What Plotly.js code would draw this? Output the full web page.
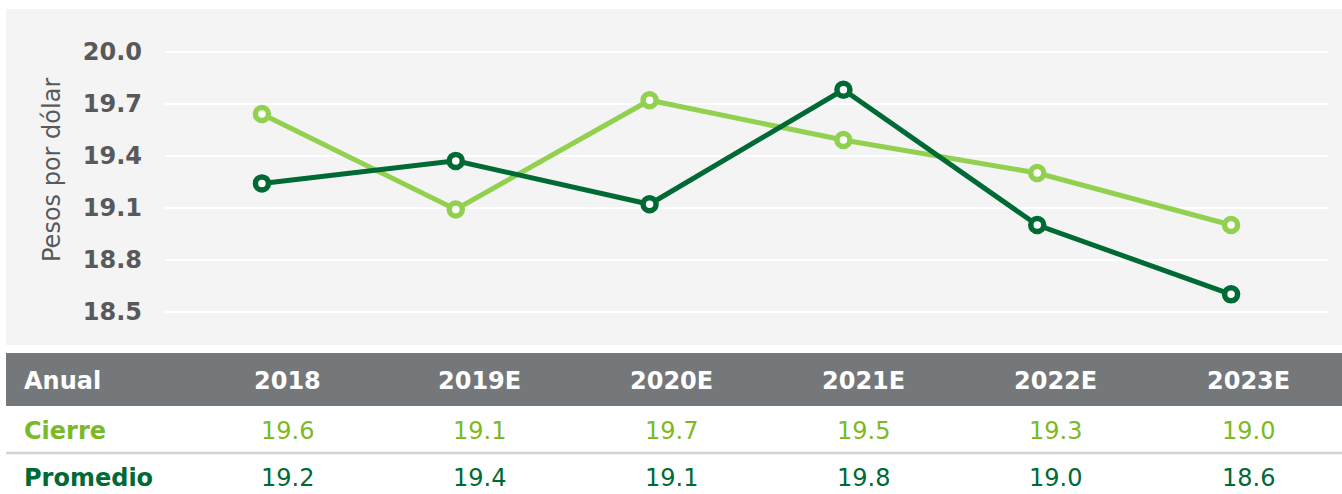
<!DOCTYPE html>
<html>
<head>
<meta charset="utf-8">
<script src="https://cdn.plot.ly/plotly-3.0.1.min.js"></script>
<style>html,body{margin:0;padding:0;background:#fff;}#chart{width:1342px;height:494px;}</style>
</head>
<body>
<div id="chart"></div>
<script>
// ---- data ----
const years = ["2018", "2019E", "2020E", "2021E", "2022E", "2023E"];
const cierre = [19.64, 19.09, 19.72, 19.49, 19.30, 19.00];
const promedio = [19.24, 19.37, 19.12, 19.78, 19.00, 18.60];
const seriesNames = ["Cierre", "Promedio"];
const headerLabel = "Anual";
const yTitle = "Pesos por dólar";
const yTicks = [18.5, 18.8, 19.1, 19.4, 19.7, 20.0];

// ---- styles ----
const W = 1342, H = 494;
const px = x => x / W;
const py = y => 1 - y / H;
const LIGHT = "#92d050", LIGHT_TXT = "#7cb927";
const DARK = "#006a35", DARK_TXT = "#006a35";
const HEAD = "#75787b", TICK = "#58595b";
const FONT = "DejaVu Sans, Verdana, sans-serif";
const FS = 24;

function lineTrace(name, vals, color) {
  return {
    type: "scatter", mode: "lines+markers", name: name,
    x: years, y: vals,
    line: {color: color, width: 5},
    marker: {size: 13, color: "#ffffff", line: {color: color, width: 5.5}},
    hoverinfo: "x+y"
  };
}

const data = [
  lineTrace(seriesNames[0], cierre, LIGHT),
  lineTrace(seriesNames[1], promedio, DARK)
];

const shapes = [
  {type: "rect", xref: "paper", yref: "paper", x0: px(6), x1: px(1342), y0: py(345), y1: py(9),
   fillcolor: "#f4f4f4", line: {width: 0}, layer: "below"},
  {type: "rect", xref: "paper", yref: "paper", x0: px(6), x1: px(1342), y0: py(406), y1: py(353),
   fillcolor: HEAD, line: {width: 0}, layer: "below"},
  {type: "line", xref: "paper", yref: "paper", x0: px(6), x1: px(1342), y0: py(453), y1: py(453),
   line: {color: "#d4d4d4", width: 2.5}, layer: "below"}
];

const colX = i => 287.5 + 192.1 * i;
const annotations = [];
annotations.push({xref: "paper", yref: "paper", x: px(52), y: py(170), text: yTitle, textangle: -90,
  showarrow: false, xanchor: "center", yanchor: "middle", font: {family: FONT, size: FS, color: TICK}});
const rows = [
  {label: headerLabel, vals: years, y: 381, color: "#ffffff", bold: true, labelColor: "#ffffff"},
  {label: seriesNames[0], vals: cierre.map(v => v.toFixed(1)), y: 431, color: LIGHT_TXT, bold: false, labelColor: LIGHT_TXT},
  {label: seriesNames[1], vals: promedio.map(v => v.toFixed(1)), y: 478, color: DARK_TXT, bold: false, labelColor: DARK_TXT}
];
rows.forEach(r => {
  annotations.push({xref: "paper", yref: "paper", x: px(22), y: py(r.y), text: r.label, showarrow: false,
    xanchor: "left", yanchor: "middle", font: {family: FONT, size: FS, color: r.labelColor, weight: "bold"}});
  r.vals.forEach((v, i) => {
    annotations.push({xref: "paper", yref: "paper", x: px(colX(i)), y: py(r.y), text: v, showarrow: false,
      xanchor: "center", yanchor: "middle",
      font: {family: FONT, size: FS, color: r.color, weight: r.bold ? "bold" : "normal"}});
  });
});

const layout = {
  width: W, height: H,
  margin: {l: 0, r: 0, t: 0, b: 0},
  paper_bgcolor: "#ffffff", plot_bgcolor: "rgba(0,0,0,0)",
  showlegend: false,
  xaxis: {type: "category", domain: [px(165), px(1328)], range: [-0.5, 5.5],
    showgrid: false, zeroline: false, showline: false, showticklabels: false, ticks: ""},
  yaxis: {domain: [py(345), py(9)], range: [18.308, 20.246],
    tickvals: yTicks, ticktext: yTicks.map(v => v.toFixed(1)),
    showgrid: true, gridcolor: "#ffffff", gridwidth: 2,
    zeroline: false, showline: false, ticks: "", ticklabelstandoff: 22,
    tickfont: {family: FONT, size: FS, color: TICK, weight: "bold"}},
  shapes: shapes,
  annotations: annotations
};

Plotly.newPlot("chart", data, layout, {displayModeBar: false, staticPlot: true});
</script>
</body>
</html>
